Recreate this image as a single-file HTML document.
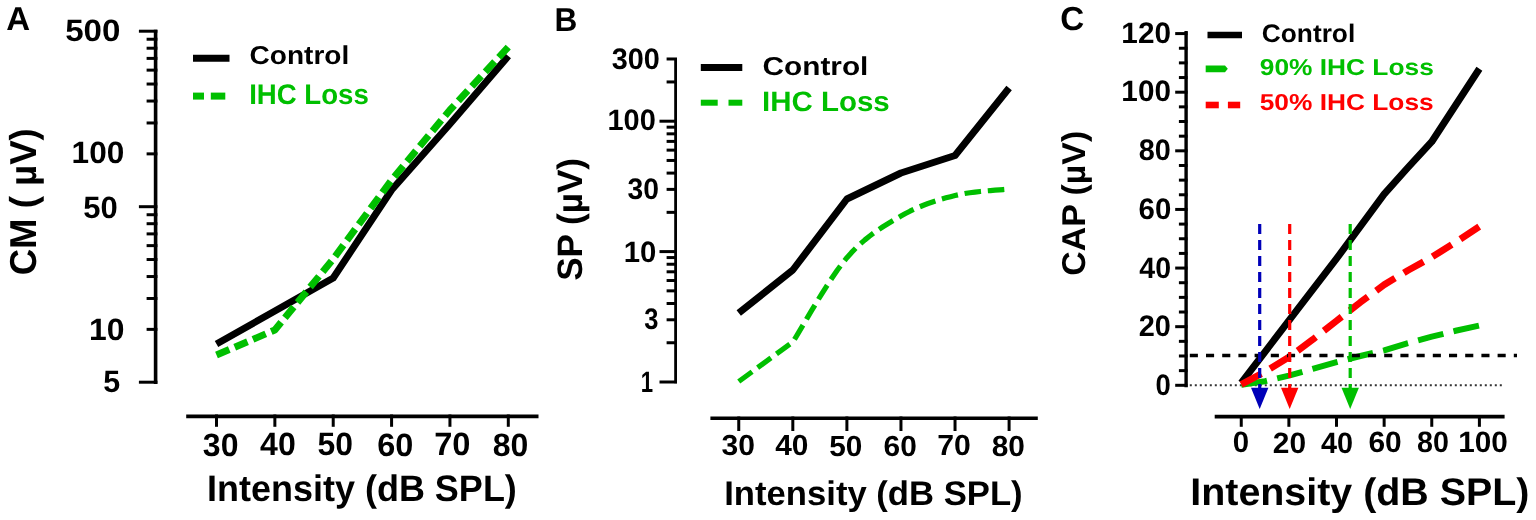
<!DOCTYPE html>
<html><head><meta charset="utf-8"><title>Figure</title>
<style>
html,body{margin:0;padding:0;background:#fff;}
svg{display:block;}
text{font-family:'Liberation Sans',Arial,sans-serif;font-weight:bold;text-rendering:geometricPrecision;}
</style></head>
<body>
<svg width="1536" height="520" viewBox="0 0 1536 520">
<rect width="1536" height="520" fill="#fff"/>
<line x1="155.60" y1="29.70" x2="155.60" y2="384.00" stroke="#000" stroke-width="3.6" />
<line x1="138.90" y1="382.20" x2="157.40" y2="382.20" stroke="#000" stroke-width="3" />
<line x1="138.90" y1="206.70" x2="157.40" y2="206.70" stroke="#000" stroke-width="3" />
<line x1="138.90" y1="31.20" x2="157.40" y2="31.20" stroke="#000" stroke-width="3" />
<line x1="146.60" y1="329.37" x2="157.40" y2="329.37" stroke="#000" stroke-width="3" />
<line x1="146.60" y1="298.47" x2="157.40" y2="298.47" stroke="#000" stroke-width="3" />
<line x1="146.60" y1="276.54" x2="157.40" y2="276.54" stroke="#000" stroke-width="3" />
<line x1="146.60" y1="259.53" x2="157.40" y2="259.53" stroke="#000" stroke-width="3" />
<line x1="146.60" y1="245.63" x2="157.40" y2="245.63" stroke="#000" stroke-width="3" />
<line x1="146.60" y1="233.89" x2="157.40" y2="233.89" stroke="#000" stroke-width="3" />
<line x1="146.60" y1="223.71" x2="157.40" y2="223.71" stroke="#000" stroke-width="3" />
<line x1="146.60" y1="214.73" x2="157.40" y2="214.73" stroke="#000" stroke-width="3" />
<line x1="146.60" y1="153.87" x2="157.40" y2="153.87" stroke="#000" stroke-width="3" />
<line x1="146.60" y1="122.97" x2="157.40" y2="122.97" stroke="#000" stroke-width="3" />
<line x1="146.60" y1="101.04" x2="157.40" y2="101.04" stroke="#000" stroke-width="3" />
<line x1="146.60" y1="84.03" x2="157.40" y2="84.03" stroke="#000" stroke-width="3" />
<line x1="146.60" y1="70.13" x2="157.40" y2="70.13" stroke="#000" stroke-width="3" />
<line x1="146.60" y1="58.39" x2="157.40" y2="58.39" stroke="#000" stroke-width="3" />
<line x1="146.60" y1="48.21" x2="157.40" y2="48.21" stroke="#000" stroke-width="3" />
<line x1="146.60" y1="39.23" x2="157.40" y2="39.23" stroke="#000" stroke-width="3" />
<line x1="186.20" y1="416.30" x2="538.50" y2="416.30" stroke="#000" stroke-width="3.8" />
<line x1="216.50" y1="414.50" x2="216.50" y2="426.80" stroke="#000" stroke-width="3" />
<line x1="274.86" y1="414.50" x2="274.86" y2="426.80" stroke="#000" stroke-width="3" />
<line x1="333.22" y1="414.50" x2="333.22" y2="426.80" stroke="#000" stroke-width="3" />
<line x1="391.58" y1="414.50" x2="391.58" y2="426.80" stroke="#000" stroke-width="3" />
<line x1="449.94" y1="414.50" x2="449.94" y2="426.80" stroke="#000" stroke-width="3" />
<line x1="508.30" y1="414.50" x2="508.30" y2="426.80" stroke="#000" stroke-width="3" />
<polyline points="216.50,344.00 274.86,311.00 333.22,278.00 391.58,190.00 449.94,124.00 508.30,56.00" fill="none" stroke="#000" stroke-width="7" stroke-linejoin="round" />
<polyline points="216.50,355.00 274.86,330.00 333.22,259.00 391.58,180.00 449.94,110.00 508.30,47.00" fill="none" stroke="#00bf00" stroke-width="7" stroke-linejoin="round" stroke-dasharray="13.89 5.95" stroke-dashoffset="0.00"/>
<line x1="193.00" y1="58.30" x2="229.50" y2="58.30" stroke="#000" stroke-width="7" />
<line x1="193.00" y1="96.10" x2="204.00" y2="96.10" stroke="#00bf00" stroke-width="7" />
<line x1="210.80" y1="96.10" x2="225.30" y2="96.10" stroke="#00bf00" stroke-width="7" />
<line x1="675.60" y1="58.00" x2="675.60" y2="383.20" stroke="#000" stroke-width="2.8" />
<line x1="659.50" y1="382.00" x2="677.00" y2="382.00" stroke="#000" stroke-width="3" />
<line x1="659.50" y1="251.60" x2="677.00" y2="251.60" stroke="#000" stroke-width="3" />
<line x1="659.50" y1="121.20" x2="677.00" y2="121.20" stroke="#000" stroke-width="3" />
<line x1="666.60" y1="342.75" x2="677.00" y2="342.75" stroke="#000" stroke-width="3" />
<line x1="666.60" y1="319.78" x2="677.00" y2="319.78" stroke="#000" stroke-width="3" />
<line x1="666.60" y1="303.49" x2="677.00" y2="303.49" stroke="#000" stroke-width="3" />
<line x1="666.60" y1="290.85" x2="677.00" y2="290.85" stroke="#000" stroke-width="3" />
<line x1="666.60" y1="280.53" x2="677.00" y2="280.53" stroke="#000" stroke-width="3" />
<line x1="666.60" y1="271.80" x2="677.00" y2="271.80" stroke="#000" stroke-width="3" />
<line x1="666.60" y1="264.24" x2="677.00" y2="264.24" stroke="#000" stroke-width="3" />
<line x1="666.60" y1="257.57" x2="677.00" y2="257.57" stroke="#000" stroke-width="3" />
<line x1="666.60" y1="212.35" x2="677.00" y2="212.35" stroke="#000" stroke-width="3" />
<line x1="666.60" y1="189.38" x2="677.00" y2="189.38" stroke="#000" stroke-width="3" />
<line x1="666.60" y1="173.09" x2="677.00" y2="173.09" stroke="#000" stroke-width="3" />
<line x1="666.60" y1="160.45" x2="677.00" y2="160.45" stroke="#000" stroke-width="3" />
<line x1="666.60" y1="150.13" x2="677.00" y2="150.13" stroke="#000" stroke-width="3" />
<line x1="666.60" y1="141.40" x2="677.00" y2="141.40" stroke="#000" stroke-width="3" />
<line x1="666.60" y1="133.84" x2="677.00" y2="133.84" stroke="#000" stroke-width="3" />
<line x1="666.60" y1="127.17" x2="677.00" y2="127.17" stroke="#000" stroke-width="3" />
<line x1="666.60" y1="81.95" x2="677.00" y2="81.95" stroke="#000" stroke-width="3" />
<line x1="666.60" y1="58.98" x2="677.00" y2="58.98" stroke="#000" stroke-width="3" />
<line x1="710.40" y1="418.20" x2="1037.80" y2="418.20" stroke="#000" stroke-width="3.6" />
<line x1="738.75" y1="416.50" x2="738.75" y2="431.00" stroke="#000" stroke-width="3" />
<line x1="792.82" y1="416.50" x2="792.82" y2="431.00" stroke="#000" stroke-width="3" />
<line x1="846.89" y1="416.50" x2="846.89" y2="431.00" stroke="#000" stroke-width="3" />
<line x1="900.96" y1="416.50" x2="900.96" y2="431.00" stroke="#000" stroke-width="3" />
<line x1="955.03" y1="416.50" x2="955.03" y2="431.00" stroke="#000" stroke-width="3" />
<line x1="1009.10" y1="416.50" x2="1009.10" y2="431.00" stroke="#000" stroke-width="3" />
<polyline points="738.75,313.00 792.82,270.00 846.89,199.00 900.96,173.00 955.03,155.50 1009.10,88.00" fill="none" stroke="#000" stroke-width="7" stroke-linejoin="round" />
<polyline points="738.75,381.50 792.82,342.00 795.43,337.79 798.70,332.34 802.54,325.85 806.84,318.57 811.52,310.69 816.48,302.46 821.62,294.07 826.86,285.77 832.11,277.76 837.25,270.26 842.21,263.50 846.89,257.70 851.40,252.67 855.90,248.04 860.41,243.78 864.91,239.86 869.42,236.23 873.93,232.86 878.43,229.71 882.94,226.75 887.44,223.94 891.95,221.23 896.45,218.60 900.96,216.00 905.47,213.50 909.97,211.19 914.48,209.06 918.98,207.08 923.49,205.25 927.99,203.55 932.50,201.98 937.01,200.51 941.51,199.14 946.02,197.86 950.52,196.65 955.03,195.50 959.71,194.45 964.67,193.53 969.81,192.74 975.06,192.06 980.30,191.47 985.44,190.97 990.40,190.54 995.08,190.17 999.38,189.84 1003.22,189.55 1006.49,189.27 1009.10,189.00" fill="none" stroke="#00bf00" stroke-width="5.2" stroke-linejoin="round" stroke-dasharray="16.55 6.81" stroke-dashoffset="0.00"/>
<line x1="700.80" y1="67.50" x2="742.30" y2="67.50" stroke="#000" stroke-width="7" />
<line x1="700.80" y1="102.70" x2="717.70" y2="102.70" stroke="#00bf00" stroke-width="6" />
<line x1="728.50" y1="102.70" x2="742.30" y2="102.70" stroke="#00bf00" stroke-width="6" />
<line x1="1186.10" y1="31.00" x2="1186.10" y2="387.20" stroke="#000" stroke-width="3.4" />
<line x1="1175.20" y1="385.30" x2="1187.50" y2="385.30" stroke="#000" stroke-width="3" />
<line x1="1175.20" y1="326.68" x2="1187.50" y2="326.68" stroke="#000" stroke-width="3" />
<line x1="1175.20" y1="268.06" x2="1187.50" y2="268.06" stroke="#000" stroke-width="3" />
<line x1="1175.20" y1="209.44" x2="1187.50" y2="209.44" stroke="#000" stroke-width="3" />
<line x1="1175.20" y1="150.82" x2="1187.50" y2="150.82" stroke="#000" stroke-width="3" />
<line x1="1175.20" y1="92.20" x2="1187.50" y2="92.20" stroke="#000" stroke-width="3" />
<line x1="1175.20" y1="33.58" x2="1187.50" y2="33.58" stroke="#000" stroke-width="3" />
<line x1="1178.90" y1="370.64" x2="1187.50" y2="370.64" stroke="#000" stroke-width="3" />
<line x1="1178.90" y1="355.99" x2="1187.50" y2="355.99" stroke="#000" stroke-width="3" />
<line x1="1178.90" y1="341.34" x2="1187.50" y2="341.34" stroke="#000" stroke-width="3" />
<line x1="1178.90" y1="312.02" x2="1187.50" y2="312.02" stroke="#000" stroke-width="3" />
<line x1="1178.90" y1="297.37" x2="1187.50" y2="297.37" stroke="#000" stroke-width="3" />
<line x1="1178.90" y1="282.72" x2="1187.50" y2="282.72" stroke="#000" stroke-width="3" />
<line x1="1178.90" y1="253.41" x2="1187.50" y2="253.41" stroke="#000" stroke-width="3" />
<line x1="1178.90" y1="238.75" x2="1187.50" y2="238.75" stroke="#000" stroke-width="3" />
<line x1="1178.90" y1="224.09" x2="1187.50" y2="224.09" stroke="#000" stroke-width="3" />
<line x1="1178.90" y1="194.78" x2="1187.50" y2="194.78" stroke="#000" stroke-width="3" />
<line x1="1178.90" y1="180.13" x2="1187.50" y2="180.13" stroke="#000" stroke-width="3" />
<line x1="1178.90" y1="165.47" x2="1187.50" y2="165.47" stroke="#000" stroke-width="3" />
<line x1="1178.90" y1="136.17" x2="1187.50" y2="136.17" stroke="#000" stroke-width="3" />
<line x1="1178.90" y1="121.51" x2="1187.50" y2="121.51" stroke="#000" stroke-width="3" />
<line x1="1178.90" y1="106.86" x2="1187.50" y2="106.86" stroke="#000" stroke-width="3" />
<line x1="1178.90" y1="77.55" x2="1187.50" y2="77.55" stroke="#000" stroke-width="3" />
<line x1="1178.90" y1="62.89" x2="1187.50" y2="62.89" stroke="#000" stroke-width="3" />
<line x1="1178.90" y1="48.24" x2="1187.50" y2="48.24" stroke="#000" stroke-width="3" />
<line x1="1214.70" y1="416.60" x2="1504.60" y2="416.60" stroke="#000" stroke-width="3.6" />
<line x1="1241.25" y1="415.00" x2="1241.25" y2="426.80" stroke="#000" stroke-width="3" />
<line x1="1288.88" y1="415.00" x2="1288.88" y2="426.80" stroke="#000" stroke-width="3" />
<line x1="1336.51" y1="415.00" x2="1336.51" y2="426.80" stroke="#000" stroke-width="3" />
<line x1="1384.14" y1="415.00" x2="1384.14" y2="426.80" stroke="#000" stroke-width="3" />
<line x1="1431.77" y1="415.00" x2="1431.77" y2="426.80" stroke="#000" stroke-width="3" />
<line x1="1479.40" y1="415.00" x2="1479.40" y2="426.80" stroke="#000" stroke-width="3" />
<line x1="1189.80" y1="385.20" x2="1503.00" y2="385.20" stroke="#333" stroke-width="2" stroke-dasharray="2 3"/>
<polyline points="1241.25,382.96 1288.88,320.52 1336.51,258.68 1384.14,194.20 1407.95,167.53 1431.77,141.73 1479.40,68.75" fill="none" stroke="#000" stroke-width="7" stroke-linejoin="round" />
<polyline points="1241.25,384.71 1265.07,381.20 1288.88,375.63 1312.69,368.89 1336.51,362.15 1360.33,355.99 1384.14,350.42 1407.95,343.09 1431.77,336.65 1455.59,330.78 1479.40,325.51" fill="none" stroke="#00bf00" stroke-width="6" stroke-linejoin="round" stroke-dasharray="26.08 10.43" stroke-dashoffset="0.00"/>
<polyline points="1241.25,384.42 1265.07,371.82 1288.88,357.16 1312.69,339.58 1336.51,320.82 1360.33,302.35 1384.14,284.77 1407.95,270.40 1431.77,257.22 1455.59,242.27 1479.40,226.44" fill="none" stroke="#ff0000" stroke-width="6.8" stroke-linejoin="round" stroke-dasharray="22.64 10.29" stroke-dashoffset="0.00"/>
<line x1="1189.80" y1="355.50" x2="1517.00" y2="355.50" stroke="#000" stroke-width="3.5" stroke-dasharray="8.1 8.1"/>
<line x1="1259.70" y1="224.00" x2="1259.70" y2="392.00" stroke="#0000b8" stroke-width="3.2" stroke-dasharray="10 6"/>
<polygon points="1251.00,387.7 1268.40,387.7 1259.70,409" fill="#0000b8"/>
<line x1="1289.70" y1="224.00" x2="1289.70" y2="392.00" stroke="#ff0000" stroke-width="3.2" stroke-dasharray="10 6"/>
<polygon points="1281.00,387.7 1298.40,387.7 1289.70,409" fill="#ff0000"/>
<line x1="1350.20" y1="224.00" x2="1350.20" y2="392.00" stroke="#00bf00" stroke-width="3.2" stroke-dasharray="10 6"/>
<polygon points="1341.50,387.7 1358.90,387.7 1350.20,409" fill="#00bf00"/>
<line x1="1207.50" y1="35.00" x2="1242.00" y2="35.00" stroke="#000" stroke-width="6.6" />
<polygon points="1205.7,65.4 1225,65.4 1227.8,68.8 1225,72.2 1205.7,72.2" fill="#00bf00"/>
<line x1="1205.70" y1="105.00" x2="1218.80" y2="105.00" stroke="#ff0000" stroke-width="6.6" />
<line x1="1227.90" y1="105.00" x2="1240.20" y2="105.00" stroke="#ff0000" stroke-width="6.6" />
<text x="6.35" y="30.26" text-anchor="start" font-size="33.20" fill="#000" textLength="23.86" lengthAdjust="spacingAndGlyphs">A</text>
<text x="554.50" y="30.61" text-anchor="start" font-size="33.20" fill="#000" textLength="22.83" lengthAdjust="spacingAndGlyphs">B</text>
<text x="1060.36" y="29.92" text-anchor="start" font-size="33.20" fill="#000" textLength="23.97" lengthAdjust="spacingAndGlyphs">C</text>
<text x="65.22" y="41.00" text-anchor="start" font-size="30.82" fill="#000" textLength="55.22" lengthAdjust="spacingAndGlyphs">500</text>
<text x="71.64" y="162.84" text-anchor="start" font-size="30.82" fill="#000" textLength="52.64" lengthAdjust="spacingAndGlyphs">100</text>
<text x="83.21" y="217.57" text-anchor="start" font-size="30.82" fill="#000" textLength="34.45" lengthAdjust="spacingAndGlyphs">50</text>
<text x="88.96" y="340.03" text-anchor="start" font-size="30.82" fill="#000" textLength="35.45" lengthAdjust="spacingAndGlyphs">10</text>
<text x="103.36" y="392.06" text-anchor="start" font-size="30.82" fill="#000" textLength="16.91" lengthAdjust="spacingAndGlyphs">5</text>
<text transform="translate(36.12,201.79) rotate(-90)" text-anchor="middle" font-size="37.46" fill="#000" textLength="147.05" lengthAdjust="spacingAndGlyphs">CM ( µV)</text>
<text x="249.59" y="64.43" text-anchor="start" font-size="25.93" fill="#000" textLength="99.66" lengthAdjust="spacingAndGlyphs">Control</text>
<text x="249.13" y="103.90" text-anchor="start" font-size="28.36" fill="#00bf00" textLength="119.71" lengthAdjust="spacingAndGlyphs">IHC Loss</text>
<text x="202.87" y="455.75" text-anchor="start" font-size="32.32" fill="#000" textLength="35.55" lengthAdjust="spacingAndGlyphs">30</text>
<text x="260.11" y="455.24" text-anchor="start" font-size="32.32" fill="#000" textLength="35.64" lengthAdjust="spacingAndGlyphs">40</text>
<text x="317.55" y="455.37" text-anchor="start" font-size="32.32" fill="#000" textLength="35.44" lengthAdjust="spacingAndGlyphs">50</text>
<text x="377.27" y="455.84" text-anchor="start" font-size="32.32" fill="#000" textLength="36.08" lengthAdjust="spacingAndGlyphs">60</text>
<text x="434.18" y="455.28" text-anchor="start" font-size="32.32" fill="#000" textLength="36.30" lengthAdjust="spacingAndGlyphs">70</text>
<text x="492.82" y="455.79" text-anchor="start" font-size="32.32" fill="#000" textLength="35.55" lengthAdjust="spacingAndGlyphs">80</text>
<text x="206.94" y="500.75" text-anchor="start" font-size="36.87" fill="#000" textLength="309.92" lengthAdjust="spacingAndGlyphs">Intensity (dB SPL)</text>
<text x="611.64" y="68.55" text-anchor="start" font-size="29.57" fill="#000" textLength="48.12" lengthAdjust="spacingAndGlyphs">300</text>
<text x="607.41" y="129.77" text-anchor="start" font-size="29.57" fill="#000" textLength="48.34" lengthAdjust="spacingAndGlyphs">100</text>
<text x="627.60" y="198.68" text-anchor="start" font-size="29.57" fill="#000" textLength="31.49" lengthAdjust="spacingAndGlyphs">30</text>
<text x="623.81" y="261.72" text-anchor="start" font-size="29.57" fill="#000" textLength="32.62" lengthAdjust="spacingAndGlyphs">10</text>
<text x="644.23" y="329.33" text-anchor="start" font-size="29.57" fill="#000" textLength="14.21" lengthAdjust="spacingAndGlyphs">3</text>
<text x="640.69" y="392.09" text-anchor="start" font-size="29.57" fill="#000" textLength="12.34" lengthAdjust="spacingAndGlyphs">1</text>
<text transform="translate(582.45,219.42) rotate(-90)" text-anchor="middle" font-size="35.33" fill="#000" textLength="122.85" lengthAdjust="spacingAndGlyphs">SP (µV)</text>
<text x="762.60" y="75.23" text-anchor="start" font-size="25.92" fill="#000" textLength="105.73" lengthAdjust="spacingAndGlyphs">Control</text>
<text x="761.94" y="111.42" text-anchor="start" font-size="28.03" fill="#00bf00" textLength="127.75" lengthAdjust="spacingAndGlyphs">IHC Loss</text>
<text x="721.57" y="455.46" text-anchor="start" font-size="29.04" fill="#000" textLength="33.45" lengthAdjust="spacingAndGlyphs">30</text>
<text x="775.24" y="455.44" text-anchor="start" font-size="29.04" fill="#000" textLength="33.25" lengthAdjust="spacingAndGlyphs">40</text>
<text x="829.25" y="455.51" text-anchor="start" font-size="29.04" fill="#000" textLength="33.14" lengthAdjust="spacingAndGlyphs">50</text>
<text x="883.57" y="456.02" text-anchor="start" font-size="29.04" fill="#000" textLength="33.20" lengthAdjust="spacingAndGlyphs">60</text>
<text x="937.28" y="455.44" text-anchor="start" font-size="29.04" fill="#000" textLength="33.59" lengthAdjust="spacingAndGlyphs">70</text>
<text x="991.73" y="455.99" text-anchor="start" font-size="29.04" fill="#000" textLength="33.21" lengthAdjust="spacingAndGlyphs">80</text>
<text x="724.19" y="504.55" text-anchor="start" font-size="34.21" fill="#000" textLength="298.48" lengthAdjust="spacingAndGlyphs">Intensity (dB SPL)</text>
<text x="1121.37" y="42.76" text-anchor="start" font-size="29.64" fill="#000" textLength="49.56" lengthAdjust="spacingAndGlyphs">120</text>
<text x="1121.37" y="101.16" text-anchor="start" font-size="29.64" fill="#000" textLength="49.56" lengthAdjust="spacingAndGlyphs">100</text>
<text x="1138.68" y="160.01" text-anchor="start" font-size="29.64" fill="#000" textLength="32.07" lengthAdjust="spacingAndGlyphs">80</text>
<text x="1138.59" y="218.83" text-anchor="start" font-size="29.64" fill="#000" textLength="32.68" lengthAdjust="spacingAndGlyphs">60</text>
<text x="1139.29" y="277.56" text-anchor="start" font-size="29.64" fill="#000" textLength="31.73" lengthAdjust="spacingAndGlyphs">40</text>
<text x="1138.65" y="336.31" text-anchor="start" font-size="29.64" fill="#000" textLength="32.16" lengthAdjust="spacingAndGlyphs">20</text>
<text x="1155.52" y="395.15" text-anchor="start" font-size="29.64" fill="#000" textLength="15.30" lengthAdjust="spacingAndGlyphs">0</text>
<text transform="translate(1084.84,203.25) rotate(-90)" text-anchor="middle" font-size="32.99" fill="#000" textLength="144.91" lengthAdjust="spacingAndGlyphs">CAP (µV)</text>
<text x="1261.82" y="41.59" text-anchor="start" font-size="25.41" fill="#000" textLength="93.39" lengthAdjust="spacingAndGlyphs">Control</text>
<text x="1259.81" y="74.76" text-anchor="start" font-size="23.09" fill="#00bf00" textLength="173.98" lengthAdjust="spacingAndGlyphs">90% IHC Loss</text>
<text x="1259.72" y="110.33" text-anchor="start" font-size="23.09" fill="#ff0000" textLength="173.93" lengthAdjust="spacingAndGlyphs">50% IHC Loss</text>
<text x="1232.67" y="451.79" text-anchor="start" font-size="29.48" fill="#000" textLength="16.34" lengthAdjust="spacingAndGlyphs">0</text>
<text x="1272.86" y="452.60" text-anchor="start" font-size="29.48" fill="#000" textLength="33.25" lengthAdjust="spacingAndGlyphs">20</text>
<text x="1320.91" y="452.68" text-anchor="start" font-size="29.48" fill="#000" textLength="32.04" lengthAdjust="spacingAndGlyphs">40</text>
<text x="1368.45" y="451.76" text-anchor="start" font-size="29.48" fill="#000" textLength="33.26" lengthAdjust="spacingAndGlyphs">60</text>
<text x="1416.99" y="451.78" text-anchor="start" font-size="29.48" fill="#000" textLength="31.85" lengthAdjust="spacingAndGlyphs">80</text>
<text x="1458.18" y="451.72" text-anchor="start" font-size="29.48" fill="#000" textLength="49.64" lengthAdjust="spacingAndGlyphs">100</text>
<text x="1190.25" y="505.30" text-anchor="start" font-size="38.47" fill="#000" textLength="339.25" lengthAdjust="spacingAndGlyphs">Intensity (dB SPL)</text>
</svg>
</body></html>
